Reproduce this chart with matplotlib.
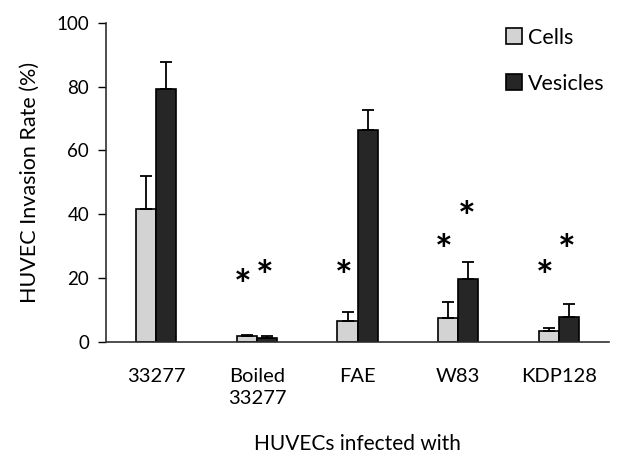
import numpy as np
import matplotlib
matplotlib.use("Agg")
import matplotlib.pyplot as plt

plt.rcParams["font.family"] = ["Lato", "DejaVu Sans"]

groups = ["33277", "Boiled\n33277", "FAE", "W83", "KDP128"]
cells = [41.7, 1.7, 6.4, 7.4, 3.5]
cells_err = [10.3, 0.5, 2.9, 5.2, 0.7]
vesicles = [79.3, 1.2, 66.3, 19.6, 7.9]
vesicles_err = [8.4, 0.5, 6.3, 5.4, 3.9]
# asterisk heights (None = no asterisk)
cells_star = [None, 21.3, 23.9, 32.2, 24.1]
vesicles_star = [None, 23.9, None, 42.4, 32.2]

fig = plt.figure(figsize=(6.38, 4.57), dpi=100)
ax = fig.add_axes([0.166, 0.252, 0.789, 0.698])

x = np.arange(len(groups))
w = 0.2
err_kw = dict(ecolor="black", elinewidth=1.3, capsize=4, capthick=1.3)
ax.bar(x - w / 2, cells, w, color="#d3d3d3", edgecolor="black", linewidth=1.2,
       label="Cells", yerr=[np.zeros(len(cells)), cells_err], error_kw=err_kw)
ax.bar(x + w / 2, vesicles, w, color="#262626", edgecolor="black", linewidth=1.2,
       label="Vesicles", yerr=[np.zeros(len(vesicles)), vesicles_err], error_kw=err_kw)

for i in range(len(groups)):
    for xs, ys in ((x[i] - w / 2 - 0.04, cells_star[i]), (x[i] + w / 2 - 0.02, vesicles_star[i])):
        if ys is not None:
            ax.annotate("*", (xs, ys), xytext=(0, -10), textcoords="offset points",
                        ha="center", va="center", fontsize=30, fontweight="bold")

ax.set_xlim(-0.5, 4.5)
ax.set_ylim(0, 100)
ax.set_yticks([0, 20, 40, 60, 80, 100])
ax.set_xticks(x)
ax.set_xticklabels(groups, fontsize=14.5, linespacing=1.35)
ax.tick_params(axis="x", length=0, pad=19)
ax.tick_params(axis="y", labelsize=13.5, length=6, width=1, direction="out", pad=6)
ax.spines["top"].set_visible(False)
ax.spines["right"].set_visible(False)
ax.spines["left"].set_color("#303030")
ax.spines["bottom"].set_color("#303030")
ax.spines["left"].set_linewidth(1.2)
ax.spines["bottom"].set_linewidth(1.2)

ax.set_ylabel("HUVEC Invasion Rate (%)", fontsize=15.5, labelpad=12)
ax.set_xlabel("HUVECs infected with", fontsize=15, labelpad=19)

ax.legend(loc="upper right", frameon=False, fontsize=15.5, handlelength=0.75,
          handleheight=0.75, handletextpad=0.3, labelspacing=1.2,
          bbox_to_anchor=(1.03, 1.045))

fig.savefig("out.png", dpi=100)
